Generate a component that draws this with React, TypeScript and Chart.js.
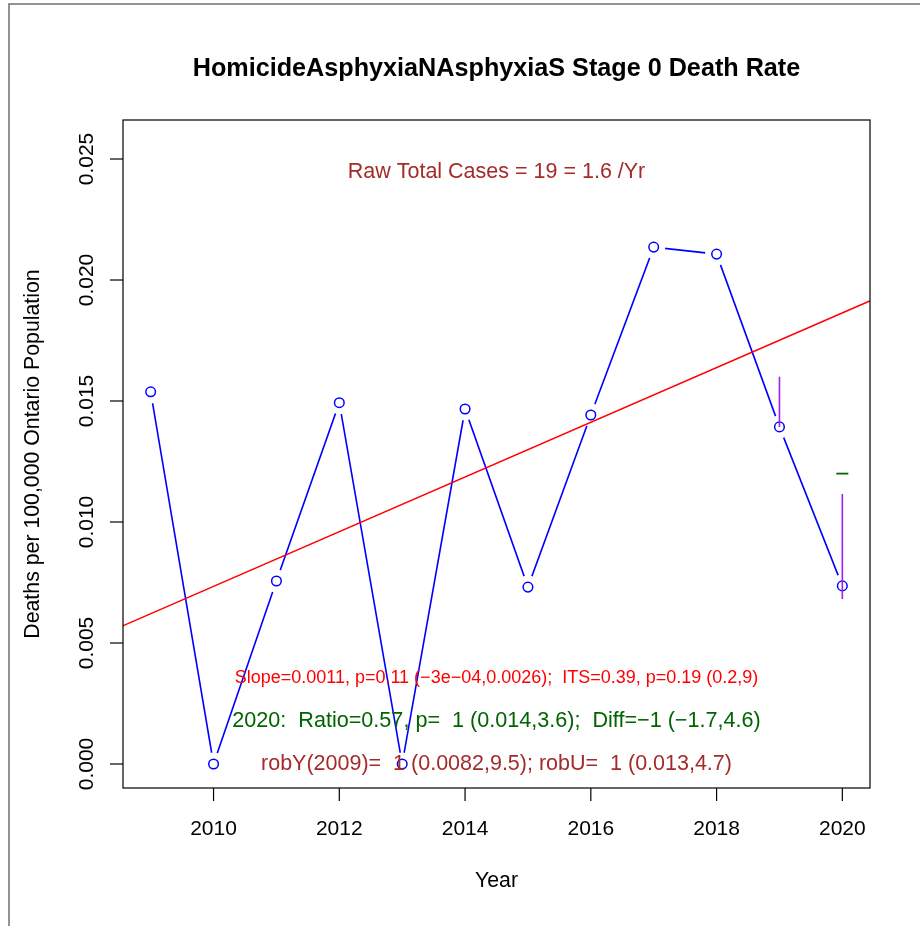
import React, { useEffect, useRef } from "react";
import { Chart, registerables } from "chart.js";

Chart.register(...registerables);

// ---- data ----
const years = [2009, 2010, 2011, 2012, 2013, 2014, 2015, 2016, 2017, 2018, 2019, 2020];
const rates = [0.01538, 0.0, 0.00756, 0.01493, 0.0, 0.01467, 0.00731, 0.01442, 0.02136, 0.02107, 0.01393, 0.00736];
const trendYears = [2008, 2021];
const trendRates = [0.00508, 0.01977];
const band2019 = [0.016, 0.01393];
const band2020 = [0.01116, 0.00682];
const expected2020 = 0.012;
const xTicks = [2010, 2012, 2014, 2016, 2018, 2020];
const yTicks = [0, 0.005, 0.01, 0.015, 0.02, 0.025];
const yTickLabels = ["0.000", "0.005", "0.010", "0.015", "0.020", "0.025"];

const titleText = "HomicideAsphyxiaNAsphyxiaS Stage 0 Death Rate";
const xTitle = "Year";
const yTitle = "Deaths per 100,000 Ontario Population";
const rawText = "Raw Total Cases = 19 = 1.6 /Yr";
const slopeText = "Slope=0.0011, p=0.11 (\u22123e\u221204,0.0026);  ITS=0.39, p=0.19 (0.2,9)";
const ratioText = "2020:  Ratio=0.57, p=  1 (0.014,3.6);  Diff=\u22121 (\u22121.7,4.6)";
const robText = "robY(2009)=  1 (0.0082,9.5); robU=  1 (0.013,4.7)";

const FONT = "'Liberation Sans', Arial, Helvetica, sans-serif";

const rPlot = {
  id: "rPlot",
  afterDraw(chart: any) {
    const ctx = chart.ctx as CanvasRenderingContext2D;
    const { left, right, top, bottom } = chart.chartArea;
    const xs = chart.scales.x;
    const ys = chart.scales.y;
    const cx = (left + right) / 2;
    ctx.save();

    // outer gray frame (top and left edges)
    ctx.strokeStyle = "#707070";
    ctx.lineWidth = 1.5;
    ctx.beginPath();
    ctx.moveTo(9, 926);
    ctx.lineTo(9, 4);
    ctx.lineTo(920, 4);
    ctx.stroke();

    // plot box
    ctx.strokeStyle = "#000";
    ctx.lineWidth = 1.2;
    ctx.strokeRect(left, top, right - left, bottom - top);

    // x ticks
    ctx.fillStyle = "#000";
    ctx.font = `21px ${FONT}`;
    ctx.textAlign = "center";
    ctx.textBaseline = "alphabetic";
    xTicks.forEach((t) => {
      const px = xs.getPixelForValue(t);
      ctx.beginPath();
      ctx.moveTo(px, bottom);
      ctx.lineTo(px, bottom + 13);
      ctx.stroke();
      ctx.fillText(String(t), px, 835);
    });

    // y ticks
    yTicks.forEach((t, i) => {
      const py = ys.getPixelForValue(t);
      ctx.beginPath();
      ctx.moveTo(left, py);
      ctx.lineTo(left - 13, py);
      ctx.stroke();
      ctx.save();
      ctx.translate(93, py);
      ctx.rotate(-Math.PI / 2);
      ctx.fillText(yTickLabels[i], 0, 0);
      ctx.restore();
    });

    // axis titles
    ctx.font = `21.3px ${FONT}`;
    ctx.fillText(xTitle, cx, 887);
    ctx.save();
    ctx.translate(38.5, (top + bottom) / 2);
    ctx.rotate(-Math.PI / 2);
    ctx.fillText(yTitle, 0, 0);
    ctx.restore();

    // main title
    ctx.font = `bold 25.2px ${FONT}`;
    ctx.fillText(titleText, cx, 76);

    // annotations
    ctx.font = `21.5px ${FONT}`;
    ctx.fillStyle = "#A52A2A";
    ctx.fillText(rawText, cx, 178);
    ctx.font = `18px ${FONT}`;
    ctx.fillStyle = "#FF0000";
    ctx.fillText(slopeText, cx, 683);
    ctx.font = `21.6px ${FONT}`;
    ctx.fillStyle = "#006400";
    ctx.fillText(ratioText, cx, 727);
    ctx.font = `21.5px ${FONT}`;
    ctx.fillStyle = "#A52A2A";
    ctx.fillText(robText, cx, 770);

    ctx.restore();
  },
};

export default function App() {
  const ref = useRef<HTMLCanvasElement | null>(null);

  useEffect(() => {
    if (!ref.current) return;
    const pts = years.map((y, i) => ({ x: y, y: rates[i] }));
    const chart = new Chart(ref.current, {
      type: "line",
      data: {
        datasets: [
          {
            label: "rate line",
            data: pts,
            borderColor: "#0000FF",
            borderWidth: 1.6,
            pointRadius: 0,
            tension: 0,
            order: 6,
          },
          {
            label: "gap",
            data: pts,
            showLine: false,
            pointRadius: 11.5,
            pointBackgroundColor: "#FFFFFF",
            pointBorderWidth: 0,
            pointBorderColor: "rgba(0,0,0,0)",
            order: 5,
          },
          {
            label: "points",
            data: pts,
            showLine: false,
            pointRadius: 4.8,
            pointBorderWidth: 1.5,
            pointBorderColor: "#0000FF",
            pointBackgroundColor: "rgba(0,0,0,0)",
            order: 4,
          },
          {
            label: "trend",
            data: trendYears.map((y, i) => ({ x: y, y: trendRates[i] })),
            borderColor: "#FF0000",
            borderWidth: 1.6,
            pointRadius: 0,
            order: 3,
          },
          {
            label: "band2019",
            data: band2019.map((v) => ({ x: 2019, y: v })),
            borderColor: "#A020F0",
            borderWidth: 1.6,
            pointRadius: 0,
            order: 2,
          },
          {
            label: "band2020",
            data: band2020.map((v) => ({ x: 2020, y: v })),
            borderColor: "#A020F0",
            borderWidth: 1.6,
            pointRadius: 0,
            order: 1,
          },
          {
            label: "expected2020",
            data: [{ x: 2020, y: expected2020 }],
            showLine: false,
            pointStyle: "line",
            pointRadius: 6,
            pointBorderWidth: 1.8,
            pointBorderColor: "#006400",
            order: 0,
          },
        ],
      },
      options: {
        animation: false,
        responsive: false,
        events: [],
        devicePixelRatio: 1,
        layout: { padding: { left: 123, top: 120, right: 50, bottom: 138 } },
        plugins: { legend: { display: false }, tooltip: { enabled: false } },
        scales: {
          x: { type: "linear", min: 2008.56, max: 2020.44, display: false },
          y: { type: "linear", min: -0.000992, max: 0.026612, display: false },
        },
      },
      plugins: [rPlot],
    });
    return () => chart.destroy();
  }, []);

  return (
    <canvas
      ref={ref}
      width={920}
      height={926}
      style={{ position: "absolute", left: 0, top: 0, background: "#fff" }}
    />
  );
}
